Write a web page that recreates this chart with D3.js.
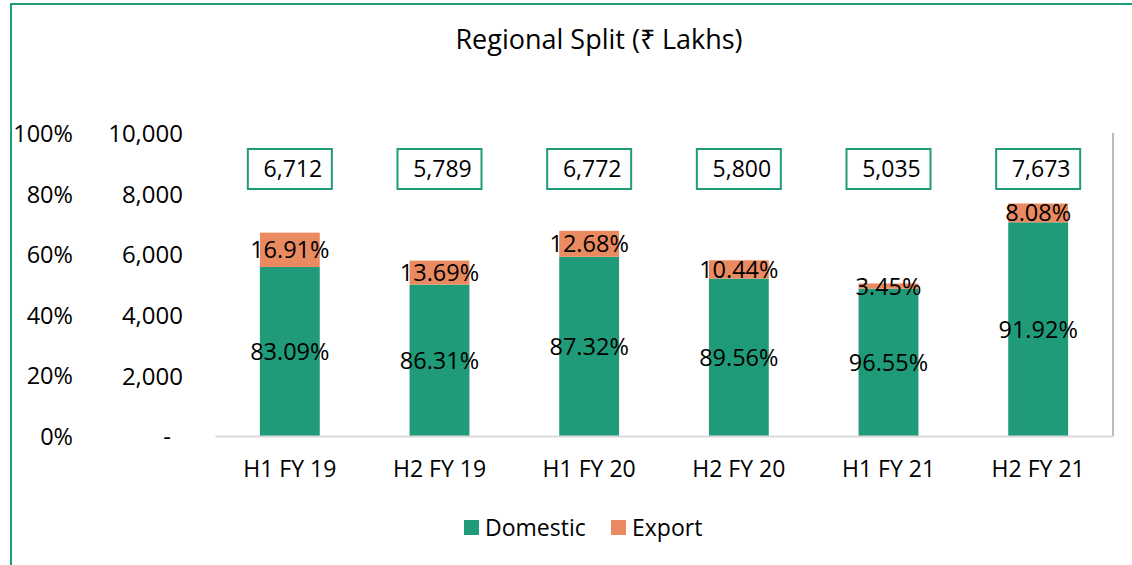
<!DOCTYPE html>
<html>
<head>
<meta charset="utf-8">
<script src="https://cdn.jsdelivr.net/npm/d3@7"></script>
<style>
  body { margin: 0; background: #fff; }
  text { font-family: "Open Sans", "Liberation Sans", Arial, sans-serif; fill: #000; }
</style>
</head>
<body>
<div id="chart"></div>
<script>
// Daten
const categories = ["H1 FY 19", "H2 FY 19", "H1 FY 20", "H2 FY 20", "H1 FY 21", "H2 FY 21"];
const totals = [6712, 5789, 6772, 5800, 5035, 7673];
const domesticPct = [83.09, 86.31, 87.32, 89.56, 96.55, 91.92];
const exportPct = [16.91, 13.69, 12.68, 10.44, 3.45, 8.08];
const seriesNames = ["Domestic", "Export"];
const valueTicks = [0, 2000, 4000, 6000, 8000, 10000];
const pctTicks = [0, 0.2, 0.4, 0.6, 0.8, 1];

const green = "#1F9B79";
const orange = "#EA8A60";
const fontFam = "'Open Sans', 'Liberation Sans', Arial, sans-serif";

const width = 1132, height = 565;
const svg = d3.select("#chart")
  .append("svg")
  .attr("width", width)
  .attr("height", height);

// grüner Rahmen (rechts und unten außerhalb des Bildes)
svg.append("rect")
  .attr("x", 11).attr("y", 4)
  .attr("width", 1300).attr("height", 700)
  .attr("fill", "none")
  .attr("stroke", green)
  .attr("stroke-width", 2);

svg.append("text")
  .text("Regional Split (₹ Lakhs)")
  .attr("x", 599).attr("y", 49)
  .attr("text-anchor", "middle")
  .style("font-size", "27px");

const data = categories.map((c, i) => ({
  category: c,
  total: totals[i],
  Domestic: totals[i] * domesticPct[i] / 100,
  Export: totals[i] * exportPct[i] / 100,
  pct: { Domestic: domesticPct[i], Export: exportPct[i] }
}));

const xScale = d3.scaleBand()
  .domain(categories)
  .range([215, 1113])
  .paddingInner(0.6)
  .paddingOuter(0.3);

const yScale = d3.scaleLinear()
  .domain([0, 10000])
  .range([436, 133]);

const pctScale = d3.scaleLinear()
  .domain([0, 1])
  .range([436, 133]);

// Achsen links
const valueAxis = svg.append("g")
  .attr("transform", "translate(183,0)")
  .call(d3.axisLeft(yScale).tickValues(valueTicks).tickSize(0).tickPadding(0)
    .tickFormat(d => d === 0 ? "-" : d3.format(",")(d)));
valueAxis.select(".domain").remove();
valueAxis.selectAll("text")
  .style("font-size", "24px")
  .style("font-family", fontFam)
  .attr("dx", d => d === 0 ? -12 : 0)
  .attr("dy", "0.36em");

const pctAxis = svg.append("g")
  .attr("transform", "translate(73,0)")
  .call(d3.axisLeft(pctScale).tickValues(pctTicks).tickSize(0).tickPadding(0)
    .tickFormat(d3.format(".0%")));
pctAxis.select(".domain").remove();
pctAxis.selectAll("text")
  .style("font-size", "23.5px")
  .style("font-family", fontFam)
  .attr("dy", "0.36em");

// rechte graue Linie
svg.append("line")
  .attr("x1", 1113).attr("x2", 1113)
  .attr("y1", yScale(10000)).attr("y2", yScale(0))
  .attr("stroke", "#a6a6a6")
  .attr("stroke-width", 1.5);

// gestapelte Balken
const stack = d3.stack().keys(seriesNames);
const stacked = stack(data);
const colors = { Domestic: green, Export: orange };

const layers = svg.selectAll("g.layer")
  .data(stacked)
  .join("g")
  .attr("class", "layer")
  .attr("fill", s => colors[s.key]);

layers.selectAll("rect")
  .data(s => s.map(d => ({ key: s.key, d0: d[0], d1: d[1], data: d.data })))
  .join("rect")
  .attr("x", d => xScale(d.data.category))
  .attr("width", xScale.bandwidth())
  .attr("y", d => yScale(d.d1))
  .attr("height", d => yScale(d.d0) - yScale(d.d1));

layers.selectAll("text")
  .data(s => s.map(d => ({ key: s.key, d0: d[0], d1: d[1], data: d.data })))
  .join("text")
  .text(d => d.data.pct[d.key].toFixed(2) + "%")
  .attr("x", d => xScale(d.data.category) + xScale.bandwidth() / 2)
  .attr("y", d => (yScale(d.d0) + yScale(d.d1)) / 2)
  .attr("dy", "0.36em")
  .attr("text-anchor", "middle")
  .style("font-size", "23.5px");

// x-Achse
const xAxis = svg.append("g")
  .attr("transform", `translate(0,${yScale(0)})`)
  .call(d3.axisBottom(xScale).tickSize(0).tickPadding(25));
xAxis.select(".domain")
  .attr("stroke", "#d9d9d9")
  .attr("stroke-width", 2);
xAxis.selectAll("text")
  .style("font-size", "23px")
  .style("font-family", fontFam);

// Summenboxen oben
const boxes = svg.selectAll("g.totalBox")
  .data(data)
  .join("g")
  .attr("class", "totalBox")
  .attr("transform", d => `translate(${xScale(d.category) + xScale.bandwidth() / 2}, 169)`);

boxes.append("rect")
  .attr("x", -42).attr("y", -20)
  .attr("width", 84).attr("height", 40)
  .attr("fill", "#fff")
  .attr("stroke", green)
  .attr("stroke-width", 2);

boxes.append("text")
  .text(d => d3.format(",")(d.total))
  .attr("x", 3)
  .attr("dy", "0.36em")
  .attr("text-anchor", "middle")
  .style("font-size", "23px");

// Legende
const legend = svg.append("g").attr("transform", "translate(464,520)");
const legendX = [0, 147];
seriesNames.forEach((name, i) => {
  legend.append("rect")
    .attr("x", legendX[i]).attr("y", 0)
    .attr("width", 15).attr("height", 15)
    .attr("fill", colors[name]);
  legend.append("text")
    .text(name)
    .attr("x", legendX[i] + 21)
    .attr("y", 8)
    .attr("dy", "0.36em")
    .style("font-size", "23px");
});
</script>
</body>
</html>
